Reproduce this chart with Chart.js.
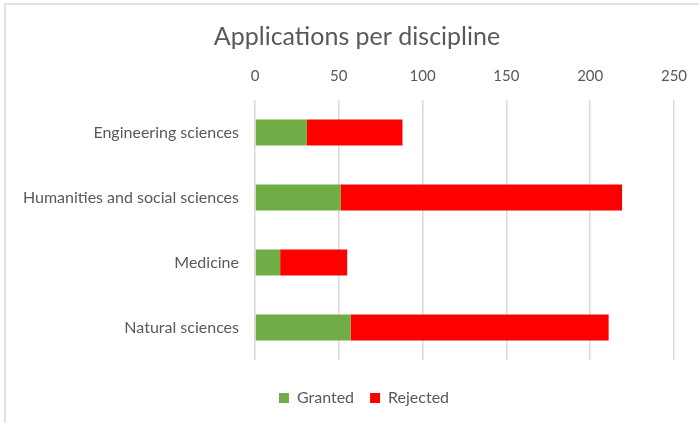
<!DOCTYPE html>
<html>
<head>
<meta charset="utf-8">
<script src="https://cdn.jsdelivr.net/npm/chart.js@4.4.1/dist/chart.umd.min.js"></script>
<style>
  html, body { margin: 0; padding: 0; background: #fff; }
  #wrap { width: 699px; height: 423px; }
</style>
</head>
<body>
<div id="wrap"><canvas id="chart" width="699" height="423"></canvas></div>
<script>
const disciplines = ['Engineering sciences', 'Humanities and social sciences', 'Medicine', 'Natural sciences'];
const granted = [31, 51, 15, 57];
const rejected = [57, 168, 40, 154];
const xTicks = [0, 50, 100, 150, 200, 250];

const textGray = '#595959';
const gridGray = '#d9d9d9';

// the grey frame Excel draws round the chart (only top and left are visible)
const framePlugin = {
  id: 'frame',
  beforeDraw(chart) {
    const c = chart.ctx;
    c.save();
    c.fillStyle = '#fff';
    c.fillRect(0, 0, chart.width, chart.height);
    c.strokeStyle = gridGray;
    c.lineWidth = 1.5;
    c.beginPath();
    c.moveTo(5, chart.height);
    c.lineTo(5, 4);
    c.lineTo(chart.width, 4);
    c.stroke();
    c.restore();
  }
};

// Excel centres title and legend on the whole frame, not the plot, so nudge them
const nudgePlugin = {
  id: 'nudge',
  afterLayout(chart) {
    const move = (box, dx, dy) => {
      box.left += dx; box.right += dx;
      box.top += dy; box.bottom += dy;
    };
    move(chart.titleBlock, 20, -2);
    move(chart.legend, 27, 14);
  }
};

const ctx = document.getElementById('chart').getContext('2d');
new Chart(ctx, {
  type: 'bar',
  data: {
    labels: disciplines,
    datasets: [
      { label: 'Granted', data: granted, backgroundColor: '#70ad47' },
      { label: 'Rejected', data: rejected, backgroundColor: '#ff0000' }
    ]
  },
  options: {
    indexAxis: 'y',
    responsive: false,
    animation: false,
    barPercentage: 0.4,
    categoryPercentage: 1,
    layout: { padding: { top: 4, right: 25, bottom: 21, left: 0 } },
    plugins: {
      title: {
        display: true,
        text: 'Applications per discipline',
        color: textGray,
        font: { family: 'Lato', size: 25, weight: 'normal' },
        padding: { top: 20, bottom: 6 }
      },
      legend: {
        position: 'bottom',
        labels: {
          color: textGray,
          font: { family: 'Lato', size: 16 },
          boxWidth: 10,
          boxHeight: 10,
          padding: 16
        }
      },
      tooltip: { enabled: false }
    },
    scales: {
      x: {
        position: 'top',
        stacked: true,
        min: 0,
        max: 250,
        afterBuildTicks(scale) {
          scale.ticks = xTicks.map(v => ({ value: v }));
        },
        afterFit(scale) {
          scale.height = 40;
          scale.paddingLeft = 0;
          scale.paddingRight = 0;
        },
        border: { display: false },
        grid: { color: gridGray, lineWidth: 1.5, drawTicks: false },
        ticks: {
          color: textGray,
          font: { family: 'Lato', size: 15 },
          padding: 15
        }
      },
      y: {
        stacked: true,
        afterFit(scale) { scale.width = 255; },
        border: { display: false },
        grid: { display: false, drawTicks: false },
        ticks: {
          color: textGray,
          font: { family: 'Lato', size: 16 },
          padding: 16
        }
      }
    }
  },
  plugins: [framePlugin, nudgePlugin]
});
</script>
</body>
</html>
